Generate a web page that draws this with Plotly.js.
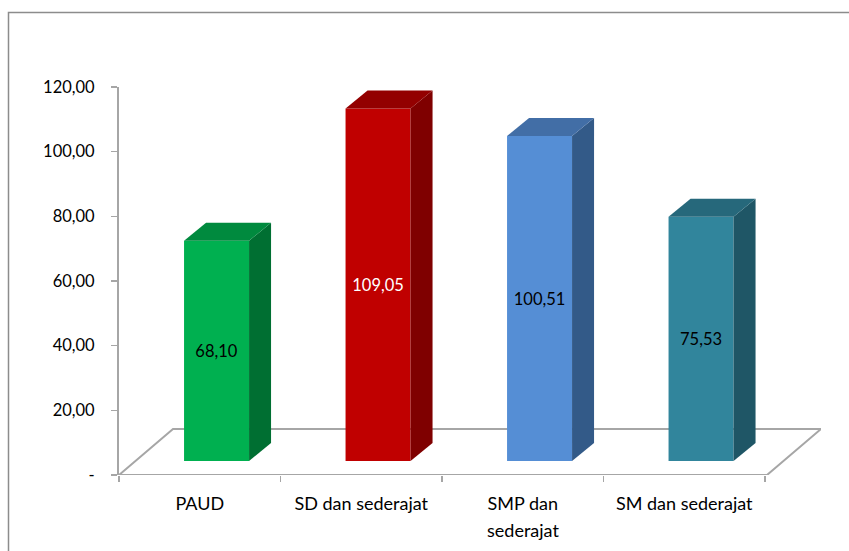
<!DOCTYPE html>
<html><head><meta charset="utf-8">
<script src="https://cdn.plot.ly/plotly-3.0.1.min.js"></script>
<style>html,body{margin:0;padding:0;background:#fff}</style></head>
<body><div id="chart" style="width:849px;height:551px"></div>
<script>
const categories = ["PAUD", "SD dan sederajat", "SMP dan", "SM dan sederajat"];
const wrappedLine = "sederajat";
const values = [68.10, 109.05, 100.51, 75.53];
const frontColors = ["#00B050", "#C00000", "#558ED5", "#31859C"];
const sideColors = ["#006F32", "#7F0000", "#335A88", "#1F5666"];
const topColors = ["#008A3E", "#930000", "#426EA6", "#26687B"];
const labelColors = ["#000000", "#FFFFFF", "#000000", "#000000"];
const yTicks = [0, 20, 40, 60, 80, 100, 120];
const yTickText = ["-", "20,00", "40,00", "60,00", "80,00", "100,00", "120,00"];

// projection of the 3D look, in axis units
const W = 849, H = 551, L = 119, R = 821, T = 87, B = 475;
const catPx = 161.5, unitPx = (B - T) / 120;
const barBase = 14 / unitPx, barWidth = 65 / catPx, barCentre = 0.604;
const depthX = 22 / catPx, depthY = 18 / unitPx;
const floorX = 54 / catPx, floorY = 46 / unitPx;
const xMax = (R - L) / catPx;

const xs = categories.map((_, i) => i + barCentre);
const traces = [];
values.forEach((v, i) => {
  const x0 = xs[i] - barWidth / 2, x1 = xs[i] + barWidth / 2, top = v + barBase;
  traces.push({type: "scatter", mode: "none", fill: "toself", fillcolor: sideColors[i], hoverinfo: "skip", showlegend: false,
    x: [x1, x1 + depthX, x1 + depthX, x1, x1],
    y: [barBase, barBase + depthY, top + depthY, top, barBase]});
  traces.push({type: "scatter", mode: "none", fill: "toself", fillcolor: topColors[i], hoverinfo: "skip", showlegend: false,
    x: [x0, x0 + depthX, x1 + depthX, x1, x0],
    y: [top, top + depthY, top + depthY, top, top]});
});
traces.push({
  type: "bar", x: xs, y: values, base: barBase, width: barWidth,
  marker: {color: frontColors, line: {width: 0}},
  text: values.map(v => v.toFixed(2).replace(".", ",")), textposition: "inside", insidetextanchor: "middle",
  textangle: 0, constraintext: "none",
  textfont: {family: "Lato, sans-serif", size: 16.5, color: labelColors},
  hoverinfo: "skip", showlegend: false
});

const gray = "#A6A6A6";
const layout = {
  width: W, height: H, margin: {l: 0, r: 0, t: 0, b: 0},
  paper_bgcolor: "#fff", plot_bgcolor: "rgba(0,0,0,0)",
  font: {family: "Lato, sans-serif", size: 16.5, color: "#000"},
  showlegend: false, barmode: "overlay",
  xaxis: {
    domain: [L / W, R / W], range: [0, xMax], showgrid: false, zeroline: false, showline: false,
    tickmode: "array", tickvals: categories.map((_, i) => i + 0.5), ticktext: categories,
    ticks: "outside", ticklen: 0, tickfont: {size: 18}, ticklabelstandoff: 12,
    minor: {tickmode: "array", tickvals: [0, 1, 2, 3, 4], ticks: "outside", ticklen: 6, tickwidth: 1.5, tickcolor: gray}
  },
  yaxis: {
    domain: [(H - B) / H, (H - T) / H], range: [0, 120], showgrid: false, zeroline: false,
    showline: true, linecolor: gray, linewidth: 2,
    tickmode: "array", tickvals: yTicks, ticktext: yTickText,
    ticks: "outside", ticklen: 6, tickwidth: 1.5, tickcolor: gray, ticklabelstandoff: 13, tickfont: {size: 16.5}
  },
  shapes: [
    {type: "path", layer: "below", xref: "x", yref: "y",
      path: `M 0 0 L ${floorX} ${floorY} L ${xMax} ${floorY} L ${xMax - floorX} 0 Z`,
      line: {color: gray, width: 2}, fillcolor: "rgba(0,0,0,0)"},
    {type: "path", layer: "below", xref: "paper", yref: "paper",
      path: `M ${8.5 / W} 0 L ${8.5 / W} ${1 - 12.5 / H} L 1 ${1 - 12.5 / H}`,
      line: {color: "#8C8C8C", width: 1.5}}
  ],
  annotations: [{
    xref: "x", yref: "paper", x: 2.5, y: (H - 530) / H, yanchor: "middle", xanchor: "center",
    text: wrappedLine, showarrow: false, font: {size: 18, color: "#000"}
  }]
};
Plotly.newPlot("chart", traces, layout, {displayModeBar: false, staticPlot: true});
</script></body></html>
